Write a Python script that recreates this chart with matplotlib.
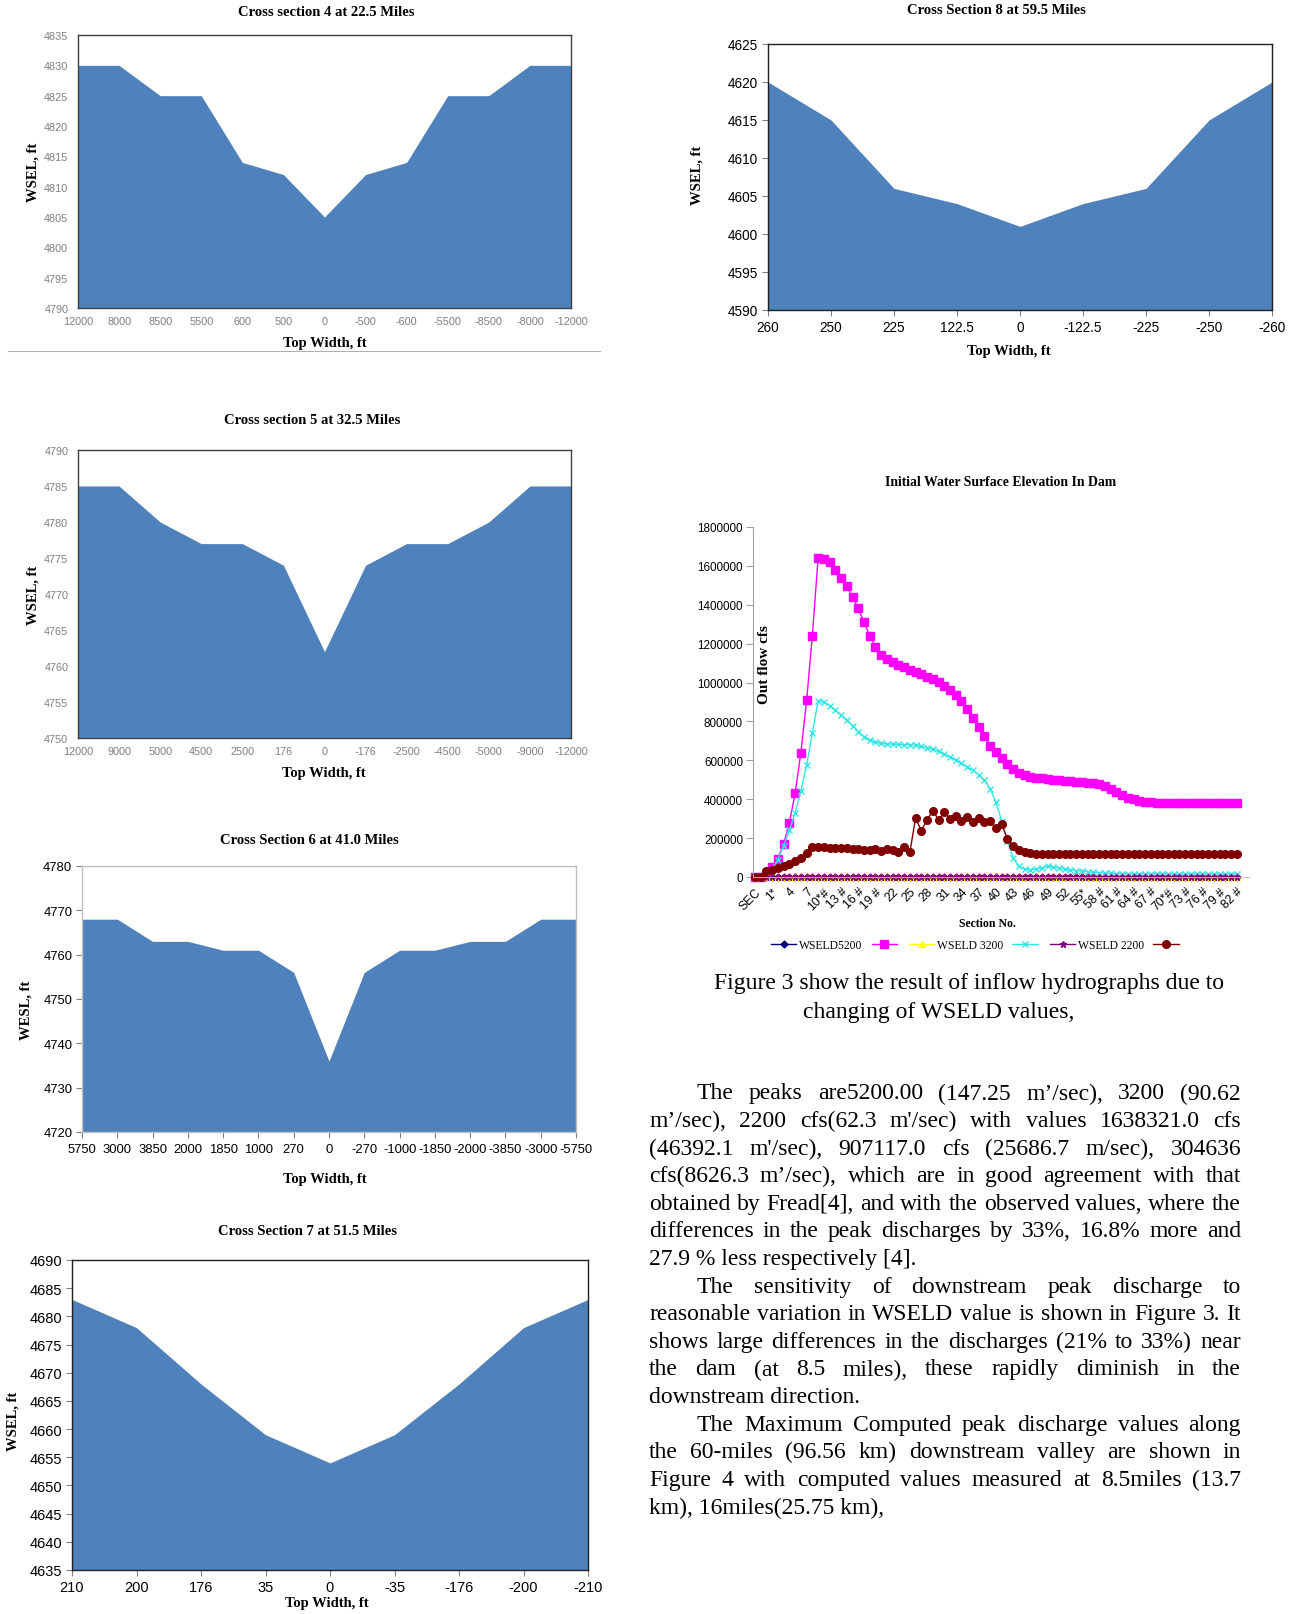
import numpy as np
import matplotlib.pyplot as plt
from matplotlib.lines import Line2D

W, H = 1300, 1615
SERIF = "Liberation Serif"
SANS = "Liberation Sans"
BLUE = "#4F81BD"

# cross sections: top width categories and water surface elevation
cs4_width = ["12000", "8000", "8500", "5500", "600", "500", "0", "-500", "-600", "-5500", "-8500", "-8000", "-12000"]
cs4_wsel = [4830, 4830, 4825, 4825, 4814, 4812, 4805, 4812, 4814, 4825, 4825, 4830, 4830]

cs5_width = ["12000", "9000", "5000", "4500", "2500", "176", "0", "-176", "-2500", "-4500", "-5000", "-9000", "-12000"]
cs5_wsel = [4785, 4785, 4780, 4777, 4777, 4774, 4762, 4774, 4777, 4777, 4780, 4785, 4785]

cs6_width = ["5750", "3000", "3850", "2000", "1850", "1000", "270", "0", "-270", "-1000", "-1850", "-2000", "-3850", "-3000", "-5750"]
cs6_wsel = [4768, 4768, 4763, 4763, 4761, 4761, 4756, 4736, 4756, 4761, 4761, 4763, 4763, 4768, 4768]

cs7_width = ["210", "200", "176", "35", "0", "-35", "-176", "-200", "-210"]
cs7_wsel = [4683, 4678, 4668, 4659, 4654, 4659, 4668, 4678, 4683]

cs8_width = ["260", "250", "225", "122.5", "0", "-122.5", "-225", "-250", "-260"]
cs8_wsel = [4620, 4615, 4606, 4604, 4601, 4604, 4606, 4615, 4620]

# outflow hydrograph peaks along the sections
sec_labels = ["SEC", "1*", "4", "7", "10*#", "13 #", "16 #", "19 #", "22", "25", "28", "31", "34", "37",
              "40", "43", "46", "49", "52", "55*", "58 #", "61 #", "64 #", "67 #", "70*#", "73 #", "76 #",
              "79 #", "82 #"]

flow_5200 = [0, 0, 10000, 50000, 95000, 170000, 280000, 432000, 640000, 908000,
             1242000, 1638321, 1638000, 1618000, 1580000, 1536000, 1495000, 1440000, 1382000, 1310000,
             1241000, 1184000, 1142000, 1121000, 1107000, 1092000, 1078000, 1066000, 1056000, 1044000,
             1030000, 1018000, 1001000, 984000, 962000, 938000, 903000, 863000, 820000, 772000,
             725000, 675000, 643000, 610000, 580000, 553000, 535000, 524000, 516000, 511000,
             507000, 504000, 501000, 498000, 495000, 493000, 490000, 488000, 486000, 484000,
             480000, 470000, 455000, 437000, 420000, 408000, 399000, 392000, 387000, 384000,
             382000, 382000, 382000, 382000, 382000, 382000, 382000, 382000, 382000, 382000,
             382000, 382000, 382000, 382000, 382000]

flow_3200 = [0, 0, 10000, 40000, 90000, 160000, 240000, 330000, 440000, 575000,
             740000, 907117, 898000, 882000, 858000, 832000, 806000, 778000, 748000, 722000,
             703000, 693000, 687000, 684000, 683000, 682000, 681000, 680000, 677000, 672000,
             666000, 657000, 646000, 632000, 618000, 602000, 585000, 567000, 548000, 526000,
             498000, 455000, 385000, 290000, 185000, 100000, 55000, 42000, 38000, 40000,
             47000, 55000, 52000, 46000, 41000, 37000, 33000, 30000, 27000, 24000,
             22000, 20000, 19000, 18000, 17000, 16000, 16000, 16000, 16000, 16000,
             16000, 16000, 15000, 15000, 15000, 15000, 15000, 15000, 15000, 15000,
             15000, 15000, 15000, 15000, 15000]

flow_2200 = [0, 0, 30000, 38000, 45000, 55000, 65000, 80000, 100000, 125000,
             152000, 153000, 152000, 151000, 150000, 149000, 148000, 146000, 144000, 141000,
             140000, 143000, 136000, 143000, 138000, 130000, 155000, 128000, 303000, 238000,
             295000, 340000, 295000, 333000, 298000, 315000, 290000, 307000, 284000, 302000,
             284000, 290000, 250000, 273000, 195000, 161000, 140000, 128000, 122000, 120000,
             120000, 120000, 120000, 120000, 120000, 120000, 120000, 120000, 120000, 120000,
             120000, 120000, 120000, 120000, 120000, 120000, 120000, 120000, 120000, 120000,
             120000, 120000, 120000, 120000, 120000, 120000, 120000, 120000, 120000, 120000,
             120000, 120000, 120000, 120000, 120000]

# the three labelled WSELD series stay on zero
wseld_5200 = [0] * 85
wseld_3200 = [0] * 85
wseld_2200 = [0] * 85

caption = ["Figure 3 show the result of inflow hydrographs due to",
           "changing of WSELD values,"]

para_lines = [
    "The peaks are5200.00 (147.25 m’/sec), 3200 (90.62",
    "m’/sec), 2200 cfs(62.3 m'/sec) with values 1638321.0 cfs",
    "(46392.1 m'/sec), 907117.0 cfs (25686.7 m/sec), 304636",
    "cfs(8626.3 m’/sec), which are in good agreement with that",
    "obtained by Fread[4], and with the observed values, where the",
    "differences in the peak discharges by 33%, 16.8% more and",
    "27.9 % less respectively [4].",
    "The sensitivity of downstream peak discharge to",
    "reasonable variation in WSELD value is shown in Figure 3. It",
    "shows large differences in the discharges (21% to 33%) near",
    "the dam (at 8.5 miles), these rapidly diminish in the",
    "downstream direction.",
    "The Maximum Computed peak discharge values along",
    "the 60-miles (96.56 km) downstream valley are shown in",
    "Figure 4 with computed values measured at 8.5miles (13.7",
    "km), 16miles(25.75 km),",
]
para_indent = [0, 7, 12]
para_last = [6, 11, 15]

fig = plt.figure(figsize=(W / 100, H / 100), dpi=100)


def add_box(l, t, r, b):
    return fig.add_axes([l / W, 1 - b / H, (r - l) / W, (b - t) / H])


def ftext(x, y, s, **kw):
    kw.setdefault("va", "center")
    kw.setdefault("ha", "center")
    return fig.text(x / W, 1 - y / H, s, **kw)


def cross_section(box, widths, wsel, yticks, size, color, edge, tlen, ypad, xpad):
    ax = add_box(*box)
    x = np.arange(len(widths))
    ax.fill_between(x, wsel, yticks[0], color=BLUE, lw=0)
    ax.set_xlim(0, len(widths) - 1)
    ax.set_ylim(yticks[0], yticks[-1])
    ax.set_xticks(x)
    ax.set_xticklabels(widths)
    ax.set_yticks(yticks)
    ax.tick_params(labelsize=size, labelcolor=color, length=tlen, color="#808080", width=0.8)
    ax.tick_params(axis="y", pad=ypad)
    ax.tick_params(axis="x", pad=xpad)
    for lab in ax.get_xticklabels() + ax.get_yticklabels():
        lab.set_family(SANS)
    for s in ax.spines.values():
        s.set_color(edge)
        s.set_linewidth(1.0)
    return ax


bold = dict(family=SERIF, weight="bold", fontsize=10.5)

# Cross section 4
cross_section((78, 36, 571, 309), cs4_width, cs4_wsel, np.arange(4790, 4836, 5),
              7.8, "#7F7F7F", "#404040", 0, 7, 6)
ftext(326, 13, "Cross section 4 at 22.5 Miles", **bold)
ftext(325, 344, "Top Width, ft", **bold)
ftext(33, 172, "WSEL, ft", rotation=90, **bold)
fig.add_artist(Line2D([8 / W, 600 / W], [1 - 352 / H] * 2, color="#B0B0B0", lw=0.8))

# Cross section 5
cross_section((78, 451, 571, 739), cs5_width, cs5_wsel, np.arange(4750, 4791, 5),
              7.8, "#7F7F7F", "#404040", 0, 7, 6)
ftext(312, 420, "Cross section 5 at 32.5 Miles", **bold)
ftext(324, 774, "Top Width, ft", **bold)
ftext(33, 595, "WSEL, ft", rotation=90, **bold)

# Cross section 6
cross_section((82, 867, 576, 1133), cs6_width, cs6_wsel, np.arange(4720, 4781, 10),
              9.4, "black", "#C0C0C0", 4, 3, 4)
ftext(309, 841, "Cross Section 6 at 41.0 Miles", **bold)
ftext(325, 1180, "Top Width, ft", **bold)
ftext(26, 1010, "WESL, ft", rotation=90, **bold)

# Cross section 7
cross_section((72, 1261, 588, 1571), cs7_width, cs7_wsel, np.arange(4635, 4691, 5),
              10.5, "black", "#202020", 4, 3, 3)
ftext(307, 1232, "Cross Section 7 at 51.5 Miles", **bold)
ftext(327, 1604, "Top Width, ft", **bold)
ftext(13, 1421, "WSEL, ft", rotation=90, **bold)

# Cross section 8
cross_section((768, 45, 1272, 311), cs8_width, cs8_wsel, np.arange(4590, 4626, 5),
              9.8, "black", "#202020", 4, 3, 3)
ftext(996, 10, "Cross Section 8 at 59.5 Miles", **bold)
ftext(1009, 351, "Top Width, ft", **bold)
ftext(697, 175, "WSEL, ft", rotation=90, **bold)

# outflow hydrographs
ax = add_box(752.7, 528, 1250, 878)
styles = [
    (wseld_5200, "#000080", "D", 3.5, "WSELD5200"),
    (flow_5200, "#FF00FF", "s", 5.3, ""),
    (wseld_3200, "#FFFF00", "^", 4.5, "WSELD 3200"),
    (flow_3200, "#33E5E5", "x", 4, ""),
    (wseld_2200, "#800080", "*", 5, "WSELD 2200"),
    (flow_2200, "#800000", "o", 5.5, ""),
]
handles = []
for vals, col, mk, ms, lab in styles:
    h, = ax.plot(np.arange(len(vals)), vals, color=col, marker=mk, ms=ms, mew=1,
                 lw=1, clip_on=False)
    handles.append(h)
ax.set_xlim(-0.4, 86.3)
ax.set_ylim(0, 1800000)
ax.set_yticks(np.arange(0, 1800001, 200000))
ax.set_yticklabels([str(v) for v in range(0, 1800001, 200000)], family=SANS, fontsize=8.4)
ax.set_xticks(np.arange(0, 3 * len(sec_labels), 3))
ax.set_xticklabels(sec_labels, rotation=45, ha="right", rotation_mode="anchor",
                   family=SANS, fontsize=8.8)
ax.tick_params(axis="y", length=5, color="#A0A0A0", pad=2)
ax.tick_params(axis="x", length=0, pad=6)
for side in ["top", "right"]:
    ax.spines[side].set_visible(False)
ax.spines["left"].set_color("#A0A0A0")
ax.spines["bottom"].set_color("#C0C0C0")
ax.spines["bottom"].set_linewidth(0.6)

ftext(1001, 483, "Initial Water Surface Elevation In Dam", family=SERIF, weight="bold", fontsize=9.9)
ftext(987, 924, "Section No.", family=SERIF, weight="bold", fontsize=8.5)
ftext(765, 665, "Out flow cfs", rotation=90, family=SERIF, weight="bold", fontsize=11)
fig.legend(handles, [s[4] for s in styles], ncol=6, loc="center", frameon=False,
           bbox_to_anchor=(976 / W, 1 - 946 / H), prop=dict(family=SERIF, size=8.4),
           handlelength=2.2, handletextpad=0.2, columnspacing=0.8)

# caption and body text
ftext(969, 984, caption[0], family=SERIF, fontsize=17)
ftext(939, 1013, caption[1], family=SERIF, fontsize=17)


def justified(lines, x0, x1, y0, step, size):
    r = fig.canvas.get_renderer()
    for k, line in enumerate(lines):
        y = y0 + k * step
        left = x0 + (48 if k in para_indent else 0)
        if k in para_last:
            ftext(left, y, line, ha="left", family=SERIF, fontsize=size)
            continue
        words = [ftext(0, y, w, ha="left", family=SERIF, fontsize=size) for w in line.split()]
        sizes = [t.get_window_extent(r).width for t in words]
        gap = (x1 - left - sum(sizes)) / (len(words) - 1)
        pos = left
        for t, w in zip(words, sizes):
            t.set_x(pos / W)
            pos += w + gap


justified(para_lines, 649, 1241, 1094, 27.6, 17)

fig.savefig("out.png", dpi=100)
